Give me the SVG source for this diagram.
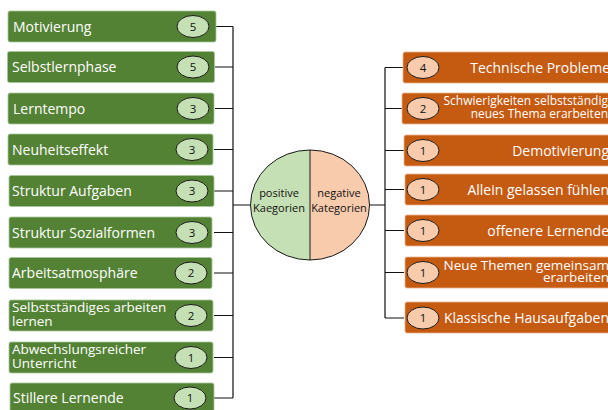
<svg xmlns="http://www.w3.org/2000/svg" width="608" height="410" viewBox="0 0 608 410">
<style>
.g{fill:#548235;stroke:#a9c79a;stroke-width:0.8}
.o{fill:#c55a11;stroke:#e8b48f;stroke-width:0.8}
.bg{fill:#c5e0b4;stroke:#1a1a1a;stroke-width:1}
.bo{fill:#f8cbad;stroke:#1a1a1a;stroke-width:1}
.t{font-family:"Open Sans","Noto Sans",sans-serif;font-size:14px;fill:#ffffff}
.t2{font-family:"Open Sans","Noto Sans",sans-serif;font-size:13.5px;fill:#ffffff}
.ts{font-family:"Open Sans","Noto Sans",sans-serif;font-size:12px;fill:#ffffff}
.n{font-family:"Open Sans","Noto Sans",sans-serif;font-size:11.5px;fill:#111;text-anchor:middle}
.c{font-family:"Open Sans","Noto Sans",sans-serif;font-size:11px;fill:#111;text-anchor:middle}
.r{text-anchor:end}
.ln{fill:none;stroke:#111;stroke-width:1.2}
</style>
<rect width="608" height="410" fill="#ffffff"/>
<g id="connectors" class="ln">
<path d="M216 26.5H233M215 67H233M215 108.5H233M214 149.5H233M214 191H233M214 232.5H233M214 273H233M214 315.5H233M214 357.5H233M214 398H233M233 26.5V398M233 205H250"/>
<path d="M369 205H385M385 67.5V318M385 67.5H404M385 108.5H404M385 150.5H404M385 189.5H404M385 230.5H404M385 272.5H404M385 318H404"/>
</g>
<g id="center">
<path d="M310 150A59.5 55 0 0 0 310 260Z" fill="#c5e0b4"/>
<path d="M310 150A59.5 55 0 0 1 310 260Z" fill="#f8cbad"/>
<ellipse cx="310" cy="205" rx="59.5" ry="55" fill="none" stroke="#1a1a1a" stroke-width="1"/>
<line x1="310" y1="150" x2="310" y2="260" stroke="#1a1a1a" stroke-width="1"/>
<text class="c" x="279" y="197">positive</text>
<text class="c" x="279" y="212">Kaegorien</text>
<text class="c" x="339" y="197">negative</text>
<text class="c" x="339" y="212">Kategorien</text>
</g>
<g id="l1"><rect class="g" x="8" y="11" width="208" height="31" rx="2"/><text class="t" x="13" y="31.5">Motivierung</text><ellipse class="bg" cx="193" cy="26.5" rx="16" ry="11"/><text class="n" x="193" y="30.5">5</text></g>
<g id="l2"><rect class="g" x="7.5" y="51.5" width="207" height="31" rx="2"/><text class="t" x="12" y="72">Selbstlernphase</text><ellipse class="bg" cx="193" cy="67" rx="16" ry="11"/><text class="n" x="193" y="71">5</text></g>
<g id="l3"><rect class="g" x="8" y="93" width="206" height="31" rx="2"/><text class="t" x="13" y="113.5">Lerntempo</text><ellipse class="bg" cx="193" cy="108.5" rx="16" ry="11"/><text class="n" x="193" y="112.5">3</text></g>
<g id="l4"><rect class="g" x="8" y="134" width="205" height="31" rx="2"/><text class="t" x="12" y="154.5">Neuheitseffekt</text><ellipse class="bg" cx="192" cy="149.5" rx="16" ry="11"/><text class="n" x="192" y="153.5">3</text></g>
<g id="l5"><rect class="g" x="9" y="175.5" width="205" height="31" rx="2"/><text class="t" x="12" y="196">Struktur Aufgaben</text><ellipse class="bg" cx="192" cy="191" rx="16" ry="11"/><text class="n" x="192" y="195">3</text></g>
<g id="l6"><rect class="g" x="9" y="217" width="203" height="31" rx="2"/><text class="t" x="12" y="237.5">Struktur Sozialformen</text><ellipse class="bg" cx="192" cy="232.5" rx="16" ry="11"/><text class="n" x="192" y="236.5">3</text></g>
<g id="l7"><rect class="g" x="9" y="257.5" width="203" height="31" rx="2"/><text class="t" x="12" y="278">Arbeitsatmosphäre</text><ellipse class="bg" cx="191" cy="273" rx="16" ry="11"/><text class="n" x="191" y="277">2</text></g>
<g id="l8"><rect class="g" x="9" y="300" width="204" height="31" rx="2"/><text class="t2" x="12" y="312">Selbstständiges arbeiten</text><text class="t2" x="12" y="326">lernen</text><ellipse class="bg" cx="191" cy="315.5" rx="16" ry="11"/><text class="n" x="191" y="319.5">2</text></g>
<g id="l9"><rect class="g" x="9" y="342" width="204" height="31" rx="2"/><text class="t2" x="12" y="353.5">Abwechslungsreicher</text><text class="t2" x="12" y="367.5">Unterricht</text><ellipse class="bg" cx="191" cy="357.5" rx="16" ry="11"/><text class="n" x="191" y="361.5">1</text></g>
<g id="l10"><rect class="g" x="10" y="383" width="204" height="31" rx="2"/><text class="t" x="13" y="403">Stillere Lernende</text><ellipse class="bg" cx="190" cy="398" rx="16" ry="11"/><text class="n" x="190" y="402">1</text></g>
<g id="r1"><rect class="o" x="403" y="52" width="215" height="31" rx="2"/><ellipse class="bo" cx="423" cy="67.5" rx="16" ry="11"/><text class="n" x="423" y="71.5">4</text><text class="t r" x="610" y="72.5">Technische Probleme</text></g>
<g id="r2"><rect class="o" x="402" y="93" width="216" height="31" rx="2"/><ellipse class="bo" cx="423" cy="108.5" rx="16" ry="11"/><text class="n" x="423" y="112.5">2</text><text class="ts r" x="608" y="105">Schwierigkeiten selbstständig</text><text class="ts r" x="608" y="117.5">neues Thema erarbeiten</text></g>
<g id="r3"><rect class="o" x="404" y="135" width="214" height="31" rx="2"/><ellipse class="bo" cx="423" cy="150.5" rx="16" ry="11"/><text class="n" x="423" y="154.5">1</text><text class="t r" x="609" y="155.5">Demotivierung</text></g>
<g id="r4"><rect class="o" x="405" y="174" width="213" height="31" rx="2"/><ellipse class="bo" cx="423" cy="189.5" rx="16" ry="11"/><text class="n" x="423" y="193.5">1</text><text class="t r" x="609" y="194.5">Allein gelassen fühlen</text></g>
<g id="r5"><rect class="o" x="405" y="215" width="213" height="31" rx="2"/><ellipse class="bo" cx="423" cy="230.5" rx="16" ry="11"/><text class="n" x="423" y="234.5">1</text><text class="t r" x="609" y="235.5">offenere Lernende</text></g>
<g id="r6"><rect class="o" x="405" y="257" width="213" height="31" rx="2"/><ellipse class="bo" cx="423" cy="272.5" rx="16" ry="11"/><text class="n" x="423" y="276.5">1</text><text class="t2 r" x="609" y="269.5">Neue Themen gemeinsam</text><text class="t2 r" x="609" y="282">erarbeiten</text></g>
<g id="r7"><rect class="o" x="405" y="302" width="213" height="31" rx="2"/><ellipse class="bo" cx="423" cy="318" rx="16" ry="11"/><text class="n" x="423" y="322">1</text><text class="t r" x="609" y="322.5">Klassische Hausaufgaben</text></g>
</svg>
